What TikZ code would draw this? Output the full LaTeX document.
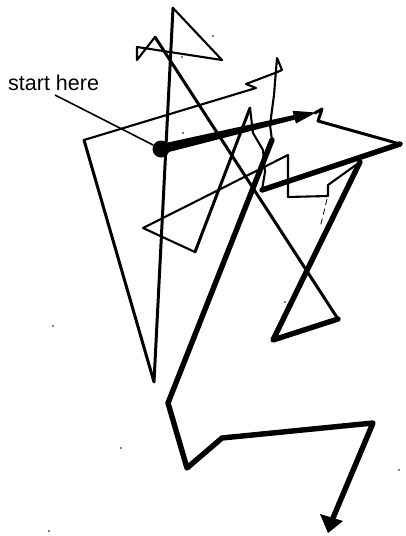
\documentclass[tikz,border=0pt]{standalone}
\usepackage{fontspec}
\setmainfont{Liberation Sans}
\usetikzlibrary{arrows.meta}

\begin{document}
\begin{tikzpicture}[
    x=1pt, y=-1pt,
    fine/.style ={line width=2.1pt, line join=round, line cap=round},
    med/.style  ={line width=3pt, line join=round, line cap=round},
    heavy/.style={line width=5.4pt, line join=round, line cap=round},
]
\useasboundingbox (0,0) rectangle (405,536);
% label and start dot
\node[font=\fontsize{21.5}{24}\selectfont, anchor=base west, inner sep=0pt] (lbl) at (8,90) {start here};
\node[circle, fill, minimum size=17pt, inner sep=0pt] (start) at (161,149) {};
\coordinate (lblfoot) at (55,95);
\draw[line width=1.6pt] (lblfoot) -- (start);
% tapered shaft and first arrowhead
\fill (162,153.8) -- (300.5,118.2) -- (299.5,113.8) -- (160,144.2) -- cycle;
\fill (316,112.5) -- (292.5,110.8) -- (296,123.5) -- cycle;
% the walk
\draw[med] (315,113) -- (322,109) -- (318,121) -- (400,144);
\draw[heavy] (400,144) -- (262,190);
\draw[fine] (262,190) -- (265,172) -- (263,150) -- (253,133) -- (250,108);
\draw[med] (250,108) -- (195,252);
\draw[fine] (195,252) -- (143,228) -- (288,155) -- (288,197) -- (328,196) -- (328,185) -- (360,162);
\draw[heavy] (360,162) -- (273,340) -- (338,319);
\draw[med] (338,319) -- (155,37);
\draw[fine] (155,37) -- (137,60) -- (137,47) -- (222,60) -- (173,8);
\draw[med] (173,8) -- (154,382) -- (84,140);
\draw[fine] (84,140) -- (256,88) -- (246,84) -- (275,73) -- (282,70) -- (277,58)
    -- (274,95) -- (270,125) -- (272,140);
\draw[heavy] (272,140) -- (168,403) -- (187,468) -- (222,438) -- (373,423) -- (333,518);
\fill (328,533) -- (320,514) -- (343,521) -- cycle;
% faint broken stroke
\draw[line width=0.8pt, dash pattern=on 6pt off 4pt] (327,199) -- (320,228);
% specks
\foreach \p in {(213,36),(182,57),(183,133),(53,326),(121,448),(49,531),(399,470),(285,302)}
    \fill \p circle[radius=0.9pt];
\end{tikzpicture}
\end{document}
